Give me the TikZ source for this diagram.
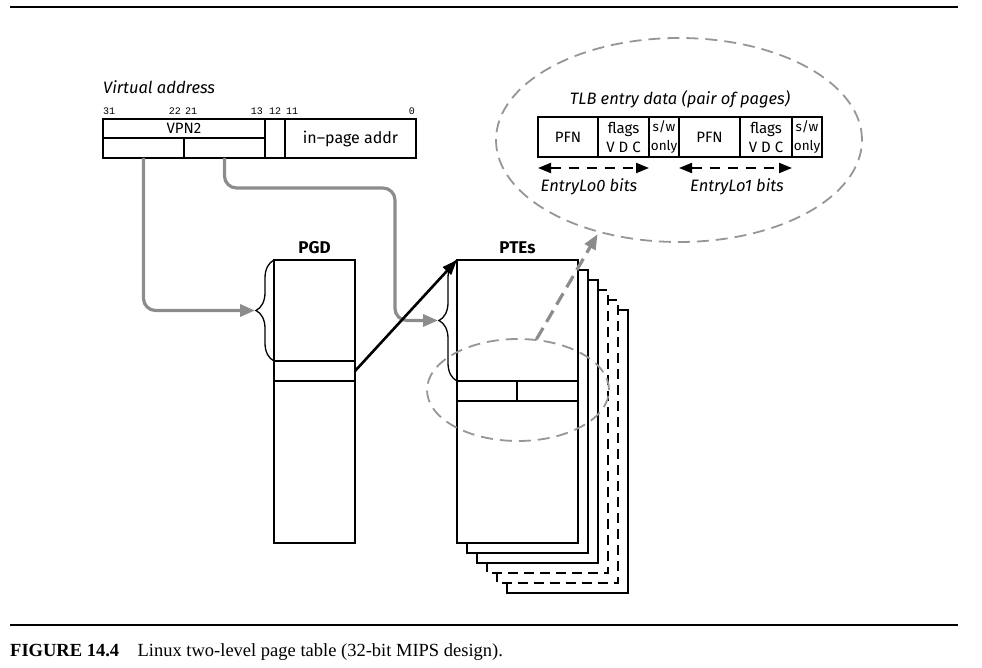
\documentclass[tikz,border=0pt]{standalone}
\usepackage{fontspec}
\setmainfont{Liberation Serif}
\setsansfont{Fira Sans}
\setmonofont{Liberation Mono}
\usepackage{tikz}
\usetikzlibrary{
    arrows.meta,
    calc,
    positioning,
    shapes.geometric,
    decorations.pathreplacing
}

\definecolor{arrowgray}{RGB}{140,140,140}
\definecolor{ringgray}{RGB}{150,150,150}
\newcommand{\setfs}[1]{\fontsize{#1}{#1}\selectfont}

\tikzset{
    field/.style={draw, line width=2.6pt, inner sep=0pt, outer sep=0pt,
        anchor=north west, font=\sffamily\setfs{15}},
    cell/.style={draw, line width=2.6pt, inner sep=0pt, outer sep=0pt,
        minimum height=40pt, align=center, font=\sffamily\fontsize{15}{19}\selectfont},
    swcell/.style={cell, font=\sffamily\fontsize{13.5}{19}\selectfont},
    bitno/.style={font=\ttfamily\setfs{10}, inner sep=0pt},
    title/.style={font=\sffamily\bfseries\setfs{17}, inner sep=0pt},
    itlabel/.style={font=\sffamily\itshape\setfs{16.5}, inner sep=0pt},
    brace/.style={decorate, decoration={brace, amplitude=18pt}, line width=1.3pt},
    grayarrow/.style={draw=arrowgray, line width=3.2pt, rounded corners=12pt,
        -{Triangle[length=15pt, width=12pt, fill=arrowgray]}},
    ring/.style={ellipse, draw=ringgray, line width=1.8pt, inner sep=0pt,
        dash pattern=on 12pt off 7pt},
    pagedash/.style={dash pattern=on 10pt off 6pt},
    bitrange/.style={line width=2pt, dash pattern=on 10pt off 8pt,
        {Triangle[length=13pt, width=10pt]}-{Triangle[length=13pt, width=10pt]}}
}

\begin{document}
\begin{tikzpicture}[x=1pt, y=-1pt, font=\sffamily]
\useasboundingbox (0,0) rectangle (982,668);

% Rules
\draw[line width=1.5pt] (10,7) -- (958,7);
\draw[line width=1.5pt] (10,625) -- (958,625);

% Virtual address
\node[itlabel, anchor=west] (vaddr) at (103,87) {Virtual address};
\node[field, minimum width=162pt, minimum height=19pt] (vpn) at (103,119) {VPN2};
\node[field, minimum width=81pt, minimum height=20pt] (pgdidx) at (103,138) {};
\node[field, minimum width=81pt, minimum height=20pt] (pteidx) at (184,138) {};
\node[field, minimum width=20pt, minimum height=39pt] (bit12) at (265,119) {};
\node[field, minimum width=131pt, minimum height=39pt, font=\sffamily\setfs{16}] (offset) at (285,119) {in–page addr};

% Bit numbers
\node[bitno, anchor=west] (b31) at (103,111) {31};
\node[bitno, anchor=east] (b22) at (181,111) {22};
\node[bitno, anchor=west] (b21) at (185,111) {21};
\node[bitno, anchor=east] (b13) at (263,111) {13};
\node[bitno] (b12) at (275,111) {12};
\node[bitno, anchor=west] (b11) at (286,111) {11};
\node[bitno, anchor=east] (b0) at (415,111) {0};

% PGD
\node[field, minimum width=81pt, minimum height=283pt] (pgd) at (274,260) {};
\node[field, minimum width=81pt, minimum height=20pt] (pgdent) at (274,361) {};
\node[title, above=6pt of pgd.north] (pgdlabel) {PGD};

% Stack of PTE pages
\foreach \k/\sty in {5/solid,4/pagedash,3/pagedash,2/solid,1/solid}
    \draw[line width=2.6pt, fill=white, \sty] (457+10*\k,260+10*\k) rectangle +(121,283);
\node[field, fill=white, minimum width=121pt, minimum height=283pt] (pte) at (457,260) {};
\node[field, line width=2pt, minimum width=60pt, minimum height=20pt] (pteA) at (457,381) {};
\node[field, line width=2pt, minimum width=61pt, minimum height=20pt] (pteB) at (517,381) {};
\node[title, above=6pt of pte.north] (ptelabel) {PTEs};

% Braces
\draw[brace] (pgdent.north west) -- (pgd.north west);
\draw[brace] (pteA.north west) -- (pte.north west);
\coordinate (pgdtip) at ($(pgd.north west)!0.5!(pgdent.north west)+(-19,0)$);
\coordinate (ptetip) at ($(pte.north west)!0.5!(pteA.north west)+(-19,0)$);

% Index arrows
\draw[grayarrow] (pgdidx.south) |- (pgdtip);
\coordinate (turn) at (395,188);
\draw[grayarrow] (pteidx.south) |- (turn) |- (ptetip);
\draw[line width=2.6pt, -{Triangle[length=15pt, width=11pt]}] (pgdent.east) -- (pte.north west);

% TLB entry
\node[ring, minimum width=182pt, minimum height=102pt] (sel) at (518,390) {};
\node[ring, minimum width=366pt, minimum height=204pt] (tlb) at (679,140) {};
\draw[grayarrow, dash pattern=on 13pt off 7pt, shorten >=2pt] (sel.70) -- (tlb.229);

\node[itlabel] (tlbtitle) at (680,99) {TLB entry data (pair of pages)};
\node[cell, minimum width=60pt, anchor=north west] (pfn0) at (538,117) {PFN};
\node[cell, minimum width=51pt, right=0pt of pfn0] (flg0) {flags\\V D C};
\node[swcell, minimum width=30pt, right=0pt of flg0] (sw0) {s/w\\only};
\node[cell, minimum width=61pt, right=0pt of sw0] (pfn1) {PFN};
\node[cell, minimum width=52pt, right=0pt of pfn1] (flg1) {flags\\V D C};
\node[swcell, minimum width=30pt, right=0pt of flg1] (sw1) {s/w\\only};

\draw[bitrange] ([yshift=-11pt]pfn0.south west) -- ([yshift=-11pt]flg0.south east);
\draw[bitrange] ([yshift=-11pt]pfn1.south west) -- ([yshift=-11pt]flg1.south east);
\node[itlabel] (lo0) at (589,187) {EntryLo0 bits};
\node[itlabel] (lo1) at (737,187) {EntryLo1 bits};

% Caption
\node[anchor=west, inner sep=0pt, font=\rmfamily\setfs{18.5}] (caption) at (10,652)
    {\textbf{FIGURE 14.4}\quad Linux two-level page table (32-bit MIPS design).};

\end{tikzpicture}
\end{document}
